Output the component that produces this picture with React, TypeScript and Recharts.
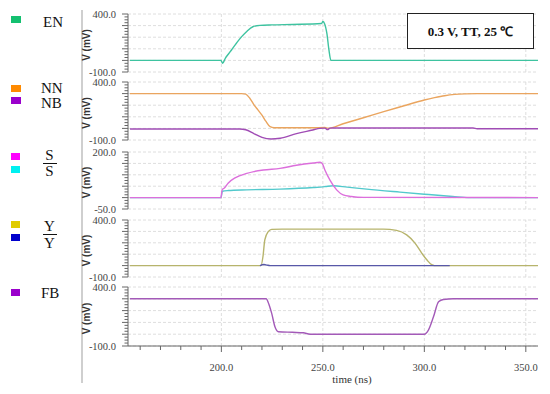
import React from "react";
import { LineChart, Line, XAxis, YAxis, ReferenceLine } from "recharts";

// ---- shared axis values ----
const timeDomain: [number, number] = [154, 356];
const xTicks = [160, 170, 180, 190, 200, 210, 220, 230, 240, 250, 260, 270, 280, 290, 300, 310, 320, 330, 340, 350];
const xLabelTicks = [200, 250, 300, 350];
const xGrid = [200, 250, 300, 350];

// ---- series (time in ns, voltage in mV) ----
const enT = [155, 199.8, 200.6, 202, 203.5, 205, 207.5, 210, 212.5, 215.5, 219, 225, 235, 249.4, 250, 250.8, 252, 253, 254, 356];
const enV = [0, 0, -25, 20, 55, 90, 150, 205, 250, 290, 302, 306, 310, 318, 335, 318, 230, 90, 0, 0];

const nnT = [155, 210, 212, 214, 216, 218, 220, 222, 224, 226, 230, 245, 251, 252.5, 260, 270, 280, 290, 300, 305, 310, 315, 320, 326, 356];
const nnV = [300, 300, 295, 260, 205, 160, 114, 60, 15, 6, 5, 5, 8, 2, 40, 92, 145, 195, 245, 265, 282, 293, 298, 300, 300];

const nbT = [155, 209, 212, 216, 220, 224.5, 229, 237, 245, 248.5, 251, 252.3, 253.5, 255, 324, 326, 356];
const nbV = [-5, -5, -12, -45, -78, -92, -85, -45, -14, 0, 2, -10, 2, 4, 4, -3, -3];

const sT = [155, 199.8, 200.4, 201.5, 203.3, 207, 212.5, 216, 220.7, 228.9, 237, 245.3, 248.6, 249.8, 251, 253.5, 256.8, 260, 264, 270, 356];
const sV = [0, 0, 35, 42, 63, 88, 106, 114, 121, 128, 142, 152, 155, 148, 121, 77, 34, 12, 5, 1, 0];

const sbT = [155, 199.8, 200.5, 203.3, 212.5, 228.9, 245.3, 251, 255, 262, 271.6, 288, 300, 314, 322, 356];
const sbV = [0, 0, 28, 31, 34, 37, 44, 48, 52, 46, 37, 24, 15, 5, 0, 0];

const yT = [155, 219.5, 220.5, 221.4, 223.1, 224.8, 230, 279.8, 286.3, 291.3, 295.4, 298.7, 301.2, 303.6, 305, 356];
const yV = [0, 0, 80, 226, 298, 318, 320, 320, 309, 269, 197, 110, 51, 8, 0, 0];

const ybT = [219, 221, 222.5, 224, 303, 305, 312.5];
const ybV = [0, 9, 4, 0, 0, 0, 0];

const fbT = [155, 222, 223.5, 224.8, 226.4, 228.1, 235, 240.4, 243.7, 300, 302, 304.5, 307, 309.4, 314.4, 356];
const fbV = [300, 300, 250, 176, 63, 21, 16, 12, 0, 0, 35, 147, 274, 294, 300, 300];

const pts = (t: number[], v: number[]) => t.map((x, i) => ({ t: x, v: v[i] }));

type LineSpec = { name: string; data: { t: number; v: number }[]; color: string };

const panels: {
  top: number;
  bottom: number;
  domain: [number, number];
  step: number;
  grid: number;
  lines: LineSpec[];
}[] = [
  { top: 14, bottom: 72, domain: [-100, 400], step: 25, grid: 100, lines: [{ name: "EN", data: pts(enT, enV), color: "#3ec3a0" }] },
  {
    top: 82, bottom: 140, domain: [-100, 400], step: 25, grid: 100,
    lines: [
      { name: "NN", data: pts(nnT, nnV), color: "#eaa55f" },
      { name: "NB", data: pts(nbT, nbV), color: "#a04cb5" },
    ],
  },
  {
    top: 152, bottom: 209, domain: [-50, 200], step: 12.5, grid: 50,
    lines: [
      { name: "Sb", data: pts(sbT, sbV), color: "#52c9cc" },
      { name: "S", data: pts(sT, sV), color: "#dc6fdc" },
    ],
  },
  {
    top: 220, bottom: 277, domain: [-100, 400], step: 25, grid: 100,
    lines: [
      { name: "Y", data: pts(yT, yV), color: "#b7b46c" },
      { name: "Yb", data: pts(ybT, ybV), color: "#5858a8" },
    ],
  },
  { top: 287, bottom: 346, domain: [-100, 400], step: 25, grid: 100, lines: [{ name: "FB", data: pts(fbT, fbV), color: "#a35ab8" }] },
];

const range = (a: number, b: number, s: number) => {
  const out: number[] = [];
  for (let v = a; v <= b + 1e-9; v += s) out.push(Math.round(v * 1000) / 1000);
  return out;
};

function Panel({ p, last }: { p: (typeof panels)[number]; last: boolean }) {
  const mt = 4;
  const mb = 4;
  const xh = last ? 40 : 0;
  const plotH = p.bottom - p.top;
  const ticks = range(p.domain[0], p.domain[1], p.step);
  const grid = range(p.domain[0], p.domain[1], p.grid);
  const renderYTick = (props: any) => {
    const { x, y, payload } = props;
    const v = payload.value as number;
    const major = Math.abs(v % p.grid) < 1e-6;
    const showLabel = v === p.domain[0] || v === p.domain[1];
    return (
      <g>
        <line x1={x - (major ? 6 : 3.5)} x2={x} y1={y} y2={y} stroke="#666" strokeWidth={1} />
        {showLabel && (
          <text x={x - 12} y={y} textAnchor="end" dominantBaseline="central" fontFamily="Liberation Serif" fontSize={10.5} fill="#444">
            {v.toFixed(1)}
          </text>
        )}
      </g>
    );
  };
  const renderXTick = (props: any) => {
    const { x, y, payload } = props;
    const v = payload.value as number;
    const major = xLabelTicks.includes(v);
    return (
      <g>
        <line x1={x} x2={x} y1={y} y2={y + (major ? 6 : 4)} stroke="#666" strokeWidth={1} />
        {major && (
          <text x={x} y={y + 25} textAnchor="middle" fontFamily="Liberation Serif" fontSize={10.5} fill="#444">
            {v.toFixed(1)}
          </text>
        )}
      </g>
    );
  };
  return (
    <div style={{ position: "absolute", left: 0, top: p.top - mt }}>
      <LineChart width={550} height={plotH + mt + mb + xh} margin={{ top: mt, right: 12, bottom: mb, left: 0 }}>
        <XAxis
          type="number"
          dataKey="t"
          domain={timeDomain}
          allowDataOverflow
          hide={!last}
          ticks={xTicks}
          interval={0}
          tickSize={0}
          tickMargin={0}
          height={xh}
          tick={renderXTick}
          axisLine={{ stroke: "#666" }}
        />
        <YAxis
          type="number"
          dataKey="v"
          domain={p.domain}
          allowDataOverflow
          ticks={ticks}
          interval={0}
          width={128}
          tickSize={0}
          tickMargin={0}
          tick={renderYTick}
          axisLine={{ stroke: "#666" }}
        />
        {grid.map((g) => (
          <ReferenceLine key={"h" + g} y={g} stroke="#dedede" strokeDasharray="3 2" />
        ))}
        {xGrid.map((g) => (
          <ReferenceLine key={"v" + g} x={g} stroke="#dedede" strokeDasharray="3 2" />
        ))}
        {p.lines.map((l) => (
          <Line
            key={l.name}
            data={l.data}
            dataKey="v"
            type="monotone"
            dot={false}
            activeDot={false}
            stroke={l.color}
            strokeWidth={1.4}
            isAnimationActive={false}
          />
        ))}
      </LineChart>
    </div>
  );
}

const serif = "Liberation Serif";

export default function App() {
  return (
    <div style={{ position: "absolute", left: 0, top: 0, width: 550, height: 394, background: "#fff", overflow: "hidden" }}>
      <svg width={550} height={394} style={{ position: "absolute", left: 0, top: 0 }}>
        <line x1={82} x2={82} y1={10} y2={383} stroke="#cfcfcf" strokeWidth={2} />
        {/* EN */}
        <rect x={11} y={16} width={10} height={7} fill="#14c070" />
        <text x={43} y={27} fontFamily={serif} fontSize={15} fill="#111">EN</text>
        {/* NN / NB */}
        <rect x={11} y={85} width={10} height={7} fill="#ff8a00" />
        <rect x={11} y={97} width={10} height={7} fill="#9a00cc" />
        <text x={41} y={93} fontFamily={serif} fontSize={15} fill="#111">NN</text>
        <text x={41} y={108} fontFamily={serif} fontSize={15} fill="#111">NB</text>
        {/* S / S bar */}
        <rect x={11} y={153} width={9} height={7} fill="#ff00ff" />
        <rect x={11} y={166} width={9} height={7} fill="#00f0f0" />
        <text x={49.5} y={159.5} textAnchor="middle" fontFamily={serif} fontSize={15} fill="#111">S</text>
        <line x1={43} x2={57} y1={163.5} y2={163.5} stroke="#111" strokeWidth={1} />
        <text x={49.5} y={176} textAnchor="middle" fontFamily={serif} fontSize={15} fill="#111">S</text>
        {/* Y / Y bar */}
        <rect x={11} y={221} width={9} height={7} fill="#e0cc00" />
        <rect x={11} y={234} width={9} height={7} fill="#0000cc" />
        <text x={49.5} y={231} textAnchor="middle" fontFamily={serif} fontSize={15} fill="#111">Y</text>
        <line x1={43} x2={57} y1={234.5} y2={234.5} stroke="#111" strokeWidth={1} />
        <text x={49.5} y={248} textAnchor="middle" fontFamily={serif} fontSize={15} fill="#111">Y</text>
        {/* FB */}
        <rect x={11} y={289} width={9} height={7} fill="#9a00cc" />
        <text x={41} y={298} fontFamily={serif} fontSize={15} fill="#111">FB</text>
        {/* axis titles */}
        {panels.map((p, i) => (
          <text
            key={i}
            x={0}
            y={0}
            transform={`translate(90, ${(p.top + p.bottom) / 2 + 2}) rotate(-90)`}
            textAnchor="middle"
            fontFamily="Liberation Sans"
            fontWeight="bold"
            fontSize={10}
            fill="#333"
          >
            V (mV)
          </text>
        ))}
        <text x={352} y={383} textAnchor="middle" fontFamily={serif} fontSize={11} fill="#333">time (ns)</text>
      </svg>
      {panels.map((p, i) => (
        <Panel key={i} p={p} last={i === panels.length - 1} />
      ))}
      <div
        style={{
          position: "absolute",
          left: 407,
          top: 13,
          width: 125,
          height: 34,
          border: "1.5px solid #222",
          background: "#fff",
          display: "flex",
          alignItems: "center",
          justifyContent: "center",
          fontFamily: serif,
          fontWeight: "bold",
          fontSize: 13,
          color: "#111",
        }}
      >
        0.3 V, TT, 25 ℃
      </div>
    </div>
  );
}
